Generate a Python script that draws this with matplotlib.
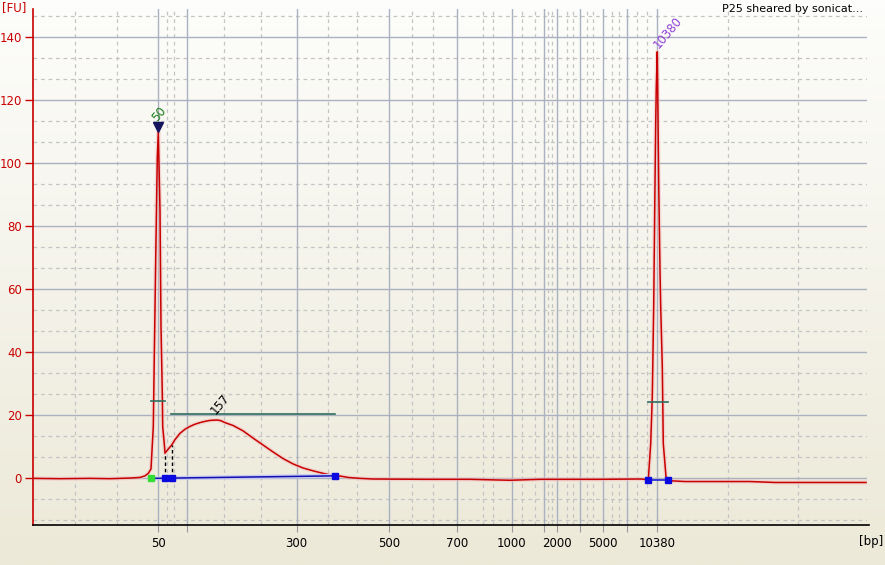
import numpy as np
import matplotlib
matplotlib.use("Agg")
import matplotlib.pyplot as plt

# ---------------- data (x in migration-position units) ----------------
ladder_sizes = [50, 100, 300, 500, 700, 1000, 1500, 2000, 3000, 5000, 7000, 10380]
ladder_pos = [158.5, 186.7, 296.7, 389.3, 456.7, 511.7, 544.0, 556.7, 580.0, 603.3, 627.3, 657.3]
shown_sizes = [50, 300, 500, 700, 1000, 2000, 5000, 10380]
minor_pos = [74.7, 117.0, 167.0, 174.5, 224.0, 261.0, 328.0, 357.3, 411.7, 433.3,
             483.3, 493.3, 521.7, 535.0, 548.3, 552.3, 566.7, 573.3, 586.7, 593.3,
             611.7, 619.3, 637.3, 646.7, 727.7, 797.7]

trace_x = [33, 60, 90, 110, 130, 140, 145, 148.3, 151, 153.3, 154.3, 155.7, 157.3, 158.3,
           160, 161, 162.3, 162.7, 164.3, 165, 167, 169, 171.7, 175, 180, 185, 190, 195,
           200, 205, 210, 215, 218, 221, 225, 233,
           243, 253, 263, 273, 283, 293, 303, 313, 323, 335, 341, 348, 360, 373, 425,
           470, 510, 540, 600, 640, 648.3, 650.7, 652.3, 653.7, 655, 655.7, 656.3, 657.3,
           657.7, 658.7, 660, 660.7, 662.3, 663.3, 666, 668, 670, 685, 750, 775, 866]
trace_y = [0.0, -0.1, 0.0, -0.1, 0.1, 0.3, 0.8, 1.6, 3.0, 16.4, 38.6, 69.3, 102, 110,
           85, 48, 27, 16.4, 11, 8.0, 8.8, 9.6, 10.6, 12.3, 14.3, 15.6, 16.5, 17.2,
           17.7, 18.1, 18.4, 18.5, 18.5, 18.3, 17.7, 16.8,
           15.1, 12.8, 10.6, 8.4, 6.3, 4.6, 3.3, 2.4, 1.6, 0.8, 0.7, 0.3, 0.0, -0.2, -0.3,
           -0.3, -0.6, -0.3, -0.3, -0.2, -0.4, 11, 26, 54.5, 93.6, 112.7, 124.3, 135.4,
           124.3, 93.6, 66, 54.5, 35.4, 11, 0.5, -0.5, -0.75, -1.0, -1.0, -1.3, -1.3]

fu_ticks = [0, 20, 40, 60, 80, 100, 120, 140]
smear_start, smear_split, smear_end = 165.0, 171.7, 335.0
smear_start_y, smear_split_y = 8.0, 10.6
smear_base = [0.0, 0.8]
lower_base_x = 151.0
upper_base = [648.3, 668.3]
upper_base_y = -0.6
smear_bar = [171.0, 335.0, 20.3]
half_lower = [151.0, 165.0, 24.7]
half_upper = [648.3, 667.7, 24.1]
lower_marker = (158.3, 111.5, "50")
upper_marker = (657.3, 135.4, "10380")
smear_peak_label = "157"
title = "P25 sheared by sonicat..."

# ---------------- figure ----------------
W, H = 885, 565
fig = plt.figure(figsize=(W / 100, H / 100), dpi=100)

# background gradient
bg = fig.add_axes([0, 0, 1, 1], zorder=-5)
top = np.array([253, 253, 251]) / 255
bot = np.array([236, 233, 216]) / 255
t = np.linspace(0, 1, 256)[:, None, None]
grad = top * (1 - t) + bot * t
grad = np.repeat(grad, 4, axis=1)
bg.imshow(grad, aspect="auto", extent=[0, 1, 0, 1], origin="upper")
bg.axis("off")

x0, x1 = 33, 867
ax = fig.add_axes([33 / W, 1 - 525 / H, (x1 - x0) / W, (525 - 9) / H])
ax.set_facecolor("none")
ax.set_xlim(x0, x1)
ax.set_ylim(-14.8, 149)

# grids
for p in minor_pos:
    ax.axvline(p, color="#c4c4c4", lw=0.9, ls=(0, (3, 3)), zorder=0)
for p in ladder_pos:
    ax.axvline(p, color="#aab1c0", lw=1.0, zorder=0.5)
minor_y = [v for v in np.arange(-40, 160, 20 / 3) if abs(v / 20 - round(v / 20)) > 0.01]
for v in minor_y:
    if -14.8 < v < 149:
        ax.axhline(v, color="#c4c4c4", lw=0.9, ls=(0, (3, 3)), zorder=0)
for v in fu_ticks:
    ax.axhline(v, color="#aab1c0", lw=1.0, zorder=0.5)

# trace with glow
ax.plot(trace_x, trace_y, color="#f3c0c0", lw=3.0, alpha=0.55, zorder=2, solid_joinstyle="round")
ax.plot(trace_x, trace_y, color="#c80000", lw=1.1, zorder=3)

# smear baseline and markers
ax.plot([lower_base_x, smear_end], smear_base, color="#c8c8f0", lw=3, zorder=3.5)
ax.plot([lower_base_x, smear_end], smear_base, color="#1010b0", lw=1.1, zorder=4)
interp = lambda xx: np.interp(xx, [lower_base_x, smear_end], smear_base)
ax.plot([smear_start, smear_start], [interp(smear_start), smear_start_y], color="black",
        lw=1, ls=(0, (2.5, 2)), zorder=4)
ax.plot([smear_split, smear_split], [interp(smear_split), smear_split_y], color="black",
        lw=1, ls=(0, (2.5, 2)), zorder=4)
ax.plot([smear_start, smear_split, smear_end],
        [interp(smear_start), interp(smear_split), interp(smear_end)],
        ls="none", marker="s", ms=5, color="#0a0ae0", zorder=5)
ax.plot([lower_base_x], [interp(lower_base_x)], ls="none", marker="s", ms=5,
        color="#33dd33", zorder=5)
ax.plot(upper_base, [upper_base_y, upper_base_y], color="#1010d0", lw=1.1, zorder=4)
ax.plot(upper_base, [upper_base_y, upper_base_y], ls="none", marker="s", ms=5,
        color="#0a0ae0", zorder=5)

# region bar and half-height ticks
ax.plot(smear_bar[:2], [smear_bar[2]] * 2, color="#2e6e5e", lw=1.2, zorder=4)
ax.plot(half_lower[:2], [half_lower[2]] * 2, color="#2e6e5e", lw=1.2, zorder=4)
ax.plot(half_upper[:2], [half_upper[2]] * 2, color="#2e6e5e", lw=1.2, zorder=4)

# peak labels
ax.plot([lower_marker[0]], [lower_marker[1]], marker="v", ms=7.5, color="#15155e", zorder=6)
ax.text(158.8, 115.6, lower_marker[2], color="#1a7a1a", fontsize=8.5,
        rotation=50, rotation_mode="anchor", ha="center", va="center", zorder=6)
ax.text(668.0, 141.5, upper_marker[2], color="#8e3fd6", fontsize=8.5,
        rotation=50, rotation_mode="anchor", ha="center", va="center", zorder=6,
        clip_on=False)
ax.text(220.5, 23.6, smear_peak_label, color="black", fontsize=8.5, rotation=50,
        rotation_mode="anchor", ha="center", va="center", zorder=6)

# axes styling
for s in ["top", "right"]:
    ax.spines[s].set_visible(False)
ax.spines["left"].set_color("#c80000")
ax.spines["left"].set_linewidth(1.2)
ax.spines["bottom"].set_color("black")
ax.spines["bottom"].set_linewidth(1.2)
ax.spines["bottom"].set_bounds(x0, 869)

ax.set_yticks(fu_ticks)
ax.set_yticklabels([str(v) for v in fu_ticks])
ax.tick_params(axis="y", colors="#c80000", labelcolor="#c80000", length=6, width=1,
               labelsize=8.5, pad=2)
ax.set_xticks(ladder_pos)
ax.set_xticklabels([str(s) if s in shown_sizes else "" for s in ladder_sizes])
ax.tick_params(axis="x", colors="#999999", labelcolor="black", length=5, width=0.8,
               labelsize=8.5, pad=3.5)

fig.text(2 / W, 1 - 8 / H, "[FU]", color="#c80000", fontsize=8.5, ha="left", va="center")
fig.text(883 / W, 1 - 542 / H, "[bp]", color="black", fontsize=8.5, ha="right", va="center")
fig.text(863 / W, 1 - 9 / H, title, color="black", fontsize=8, ha="right", va="center")

fig.savefig("out.png", dpi=100)
